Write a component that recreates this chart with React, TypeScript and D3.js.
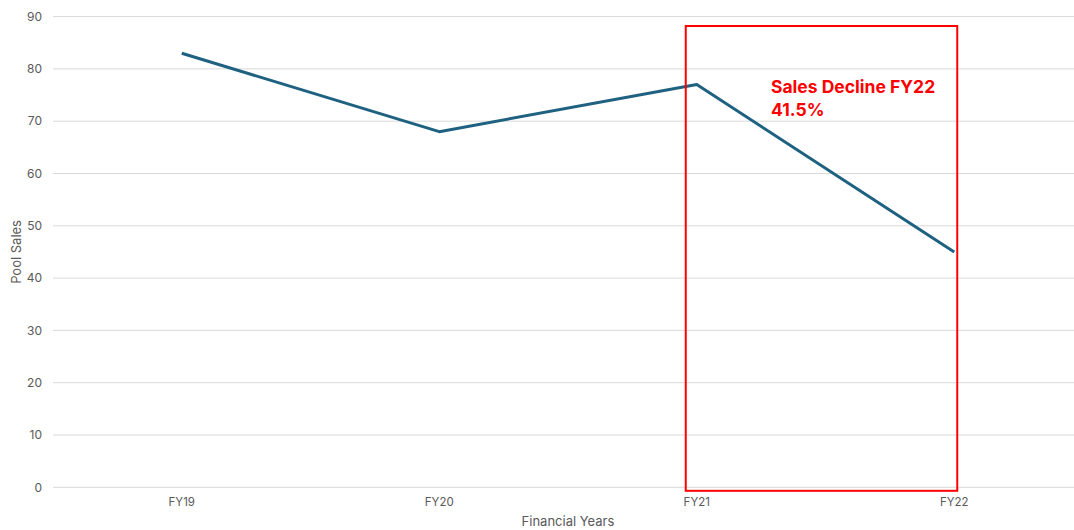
import React from "react";
import * as d3 from "d3";

const categories = ["FY19", "FY20", "FY21", "FY22"];
const poolSales = [83, 68, 77, 45];
const yTicks = [0, 10, 20, 30, 40, 50, 60, 70, 80, 90];
const annotationLines = ["Sales Decline FY22", "41.5%"];

const W = 1074;
const H = 530;
const plot = { left: 53, right: 1083, top: 16.6, bottom: 487.3 };

export default function App() {
  const x = d3
    .scaleBand<string>()
    .domain(categories)
    .range([plot.left, plot.right])
    .paddingInner(0)
    .paddingOuter(0);
  const cx = (c: string) => (x(c) as number) + x.bandwidth() / 2;
  const y = d3.scaleLinear().domain([0, 90]).range([plot.bottom, plot.top]);

  const line = d3
    .line<number>()
    .x((_, i) => cx(categories[i]))
    .y((d) => y(d));

  const font = "Inter, 'Open Sans', sans-serif";
  const grey = "#595959";

  // highlight box around the FY21 → FY22 drop
  const boxLeft = cx("FY21") - 11;
  const boxRight = cx("FY22") + 3;
  const boxTop = y(88.2);
  const boxBottom = y(0) + 3.5;

  return (
    <svg
      width={W}
      height={H}
      style={{ position: "absolute", left: 0, top: 0, background: "#fff" }}
    >
      {yTicks.map((t) => (
        <g key={t}>
          <line
            x1={plot.left}
            x2={plot.right}
            y1={y(t)}
            y2={y(t)}
            stroke="#d9d9d9"
            strokeWidth={1}
          />
          <text
            x={42}
            y={y(t)}
            dy="0.35em"
            textAnchor="end"
            fontFamily={font}
            fontSize={12}
            fill={grey}
          >
            {t}
          </text>
        </g>
      ))}
      {categories.map((c) => (
        <text
          key={c}
          x={cx(c)}
          y={506}
          textAnchor="middle"
          fontFamily={font}
          fontSize={11.5}
          fill={grey}
        >
          {c}
        </text>
      ))}
      <text
        x={568}
        y={526}
        textAnchor="middle"
        fontFamily={font}
        fontSize={13}
        fill={grey}
      >
        Financial Years
      </text>
      <text
        transform={`translate(21, ${(plot.top + plot.bottom) / 2}) rotate(-90)`}
        textAnchor="middle"
        fontFamily={font}
        fontSize={13}
        fill={grey}
      >
        Pool Sales
      </text>
      <path
        d={line(poolSales) || ""}
        fill="none"
        stroke="#1e6180"
        strokeWidth={3}
        strokeLinejoin="round"
      />
      <rect
        x={boxLeft}
        y={boxTop}
        width={boxRight - boxLeft}
        height={boxBottom - boxTop}
        fill="none"
        stroke="#ff0000"
        strokeWidth={2}
      />
      {annotationLines.map((s, i) => (
        <text
          key={s}
          x={771}
          y={93 + i * 23}
          fontFamily={font}
          fontSize={17.5}
          fontWeight={700}
          fill="#ff0000"
        >
          {s}
        </text>
      ))}
    </svg>
  );
}
